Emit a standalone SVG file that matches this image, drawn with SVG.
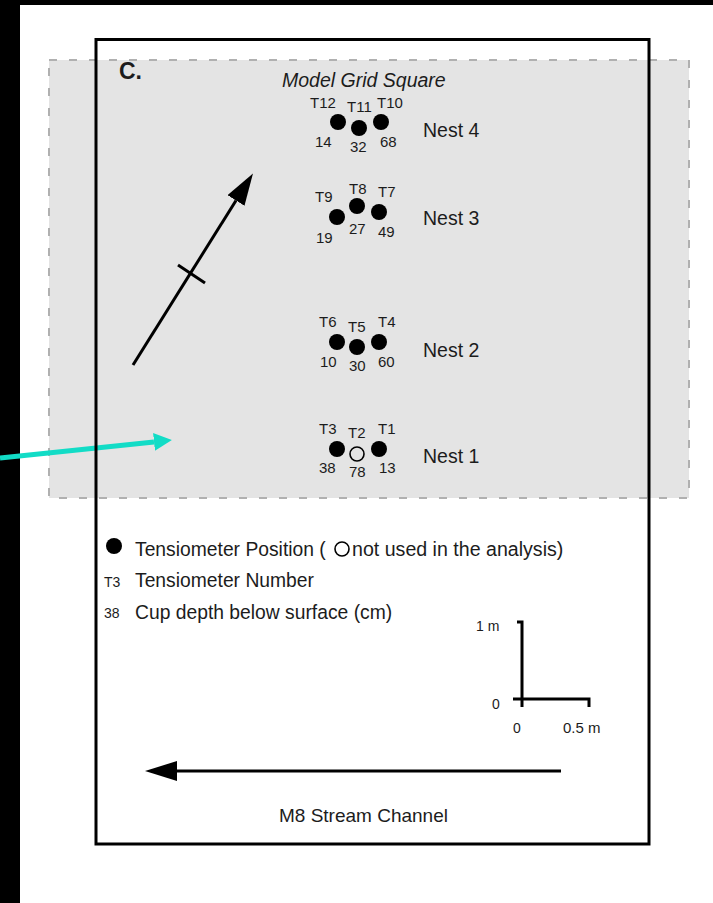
<svg xmlns="http://www.w3.org/2000/svg" width="713" height="903" viewBox="0 0 713 903">
  <style>
    text { font-family: "Liberation Sans", Arial, sans-serif; fill: #1c1c1c; }
    .t { font-size: 15px; }
    .nest { font-size: 19.5px; }
    .leg { font-size: 19.3px; }
    .sm { font-size: 14px; }
    .dot { fill: #000; }
    .open { fill: none; stroke: #000; stroke-width: 1.6; }
    .blk { stroke: #000; stroke-width: 3; fill: none; }
  </style>
  <defs>
    <marker id="headBlack" viewBox="0 0 32 20" refX="0" refY="10" markerWidth="32" markerHeight="20" markerUnits="userSpaceOnUse" orient="auto">
      <path d="M0,0 L32,10 L0,20 z" fill="#000"/>
    </marker>
    <marker id="headCyan" viewBox="0 0 18 18" refX="0" refY="9" markerWidth="18" markerHeight="18" markerUnits="userSpaceOnUse" orient="auto">
      <path d="M0,0 L18,9 L0,18 z" fill="#12dcc6"/>
    </marker>
  </defs>

  <rect x="0" y="0" width="713" height="903" fill="#ffffff"/>
  <rect x="0" y="0" width="20" height="903" fill="#000"/>
  <rect x="0" y="0" width="713" height="5" fill="#000"/>

  <!-- model grid square -->
  <rect id="gridSquare" x="49" y="60" width="640" height="438" fill="#e4e4e4" stroke="#b0b0b0" stroke-width="2" stroke-dasharray="8 12"/>

  <g id="connectors">
    <line x1="0" y1="458" x2="154" y2="441.9" stroke="#12dcc6" stroke-width="5" marker-end="url(#headCyan)"/>
    <line x1="133" y1="365" x2="236" y2="200.5" class="blk" marker-end="url(#headBlack)"/>
    <line x1="178" y1="265" x2="205" y2="283" class="blk"/>
    <line x1="561" y1="771" x2="177" y2="771" class="blk" marker-end="url(#headBlack)"/>
  </g>

  <!-- outer frame -->
  <rect id="frame" x="96" y="39.5" width="553" height="804.5" fill="none" stroke="#000" stroke-width="3"/>

  <text x="119" y="79" style="font-size:23px;font-weight:bold">C.</text>
  <text x="282" y="87" style="font-size:19.5px;font-style:italic">Model Grid Square</text>

  <g id="nest4">
    <circle class="dot" cx="338" cy="122" r="8"/>
    <circle class="dot" cx="359" cy="128" r="8"/>
    <circle class="dot" cx="381" cy="122" r="8"/>
    <text class="t" x="310" y="108">T12</text>
    <text class="t" x="347" y="112">T11</text>
    <text class="t" x="377" y="108">T10</text>
    <text class="t" x="315" y="147">14</text>
    <text class="t" x="350" y="152">32</text>
    <text class="t" x="380" y="147">68</text>
    <text class="nest" x="423" y="137">Nest 4</text>
  </g>

  <g id="nest3">
    <circle class="dot" cx="337" cy="217" r="8"/>
    <circle class="dot" cx="357" cy="206" r="8"/>
    <circle class="dot" cx="379" cy="212" r="8"/>
    <text class="t" x="315" y="202">T9</text>
    <text class="t" x="349" y="194">T8</text>
    <text class="t" x="378" y="197">T7</text>
    <text class="t" x="316" y="243">19</text>
    <text class="t" x="349" y="234">27</text>
    <text class="t" x="378" y="237">49</text>
    <text class="nest" x="423" y="225">Nest 3</text>
  </g>

  <g id="nest2">
    <circle class="dot" cx="337" cy="342" r="8"/>
    <circle class="dot" cx="357" cy="347" r="8"/>
    <circle class="dot" cx="379" cy="342" r="8"/>
    <text class="t" x="319" y="327">T6</text>
    <text class="t" x="348" y="332">T5</text>
    <text class="t" x="378" y="327">T4</text>
    <text class="t" x="320" y="367">10</text>
    <text class="t" x="349" y="371">30</text>
    <text class="t" x="378" y="367">60</text>
    <text class="nest" x="423" y="357">Nest 2</text>
  </g>

  <g id="nest1">
    <circle class="dot" cx="337" cy="449" r="8"/>
    <circle class="open" cx="357" cy="454" r="7"/>
    <circle class="dot" cx="379" cy="449" r="8"/>
    <text class="t" x="319" y="434">T3</text>
    <text class="t" x="348" y="438">T2</text>
    <text class="t" x="378" y="434">T1</text>
    <text class="t" x="319" y="473">38</text>
    <text class="t" x="349" y="477">78</text>
    <text class="t" x="379" y="473">13</text>
    <text class="nest" x="423" y="463">Nest 1</text>
  </g>

  <g id="legend">
    <circle class="dot" cx="114" cy="546" r="8"/>
    <text class="leg" x="135" y="556">Tensiometer Position (</text>
    <circle class="open" cx="342" cy="549" r="7"/>
    <text class="leg" x="352" y="556" style="font-size:19.6px">not used in the analysis)</text>
    <text class="sm" x="104" y="587">T3</text>
    <text class="leg" x="135" y="587">Tensiometer Number</text>
    <text class="sm" x="104" y="618">38</text>
    <text class="leg" x="135" y="619">Cup depth below surface (cm)</text>
  </g>

  <g id="scale">
    <polyline points="517,622 522,622 522,707" class="blk" stroke-width="3.5"/>
    <polyline points="513,699 589,699 589,707" class="blk" stroke-width="3.5"/>
    <text class="sm" x="476" y="631">1 m</text>
    <text class="sm" x="492" y="709">0</text>
    <text class="sm" x="513" y="733">0</text>
    <text class="sm" x="563" y="733" style="font-size:15px">0.5 m</text>
  </g>

  <text id="streamLabel" x="279" y="822" style="font-size:19px">M8 Stream Channel</text>
</svg>
